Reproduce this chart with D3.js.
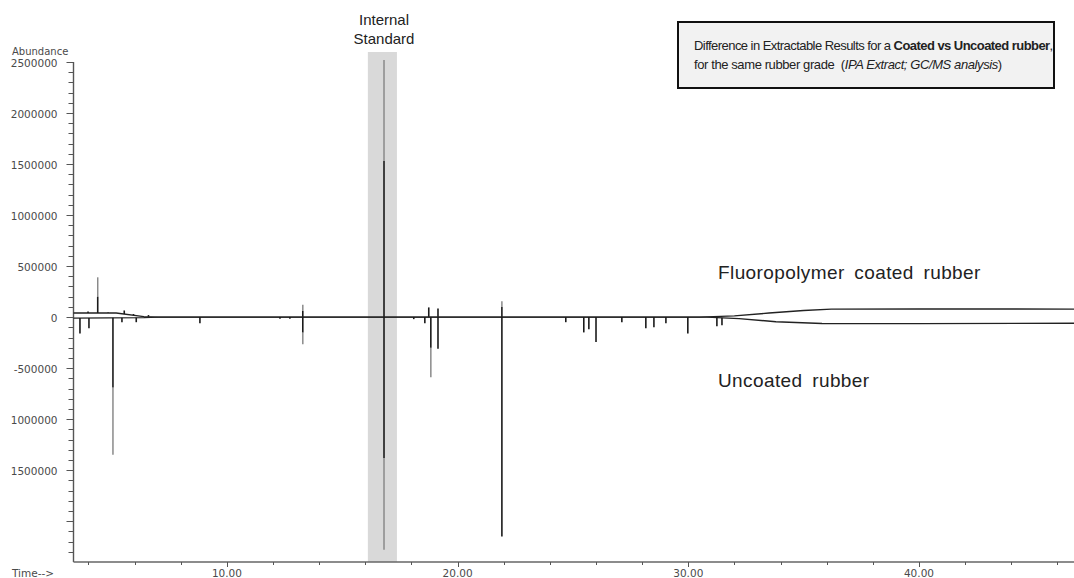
<!DOCTYPE html>
<html>
<head>
<meta charset="utf-8">
<script src="https://cdn.jsdelivr.net/npm/d3@7"></script>
<style>
  body { margin: 0; background: #fff; }
  svg { display: block; }
  .tick-label { font-family: "DejaVu Sans", sans-serif; font-size: 10.5px; fill: #4a4a4a; }
  .note { font-family: "Liberation Sans", Arial, sans-serif; fill: #222; }
</style>
</head>
<body>
<script>
// axis range (minutes, abundance)
var timeDomain = [3.35, 46.72];
var abundanceDomain = [-2400000, 2500000];
var yTickLabels = [
  [2500000, "2500000"], [2000000, "2000000"], [1500000, "1500000"],
  [1000000, "1000000"], [500000, "500000"], [0, "0"],
  [-500000, "-500000"], [-1000000, "1000000"], [-1500000, "1500000"]
];
var xMajorTicks = [10, 20, 30, 40];

// internal standard band (minutes)
var isBand = [16.11, 17.37];

// slow baseline drift, [time, abundance]
var coatedBaseline = [
  [3.35, 40000], [5.2, 40000], [6.4, 5000], [7.0, 0], [30.5, 0], [32.0, 12000],
  [33.5, 40000], [35.0, 65000], [36.2, 78000], [40.0, 80000], [46.72, 78000]
];
var uncoatedBaseline = [
  [3.35, -10000], [6.4, -5000], [7.0, 0], [30.8, 0], [32.2, -15000],
  [33.8, -45000], [35.8, -63000], [40.0, -64000], [46.72, -60000]
];

// peaks: [time, dark part, full height]
var coatedPeaks = [
  [3.98, 55000, 55000], [4.40, 200000, 390000], [4.85, 45000, 45000],
  [5.55, 65000, 65000], [5.95, 30000, 30000], [6.60, 20000, 20000],
  [13.29, 60000, 120000], [16.81, 1530000, 2520000], [18.75, 95000, 95000],
  [19.15, 85000, 85000], [21.92, 100000, 155000]
];
var uncoatedPeaks = [
  [3.63, -160000, -160000], [4.02, -110000, -110000], [5.06, -690000, -1350000],
  [5.45, -50000, -50000], [6.07, -50000, -50000], [8.83, -60000, -60000],
  [12.30, -15000, -15000], [12.73, -15000, -15000], [13.29, -150000, -265000],
  [16.81, -1380000, -2280000], [18.10, -20000, -20000], [18.58, -60000, -60000],
  [18.84, -300000, -590000], [19.15, -310000, -310000], [21.92, -2150000, -2150000],
  [24.69, -50000, -50000], [25.47, -150000, -150000], [25.69, -120000, -120000],
  [26.00, -245000, -245000], [27.12, -50000, -50000], [28.16, -110000, -110000],
  [28.51, -100000, -100000], [29.03, -60000, -60000], [29.98, -160000, -160000],
  [31.24, -90000, -90000], [31.46, -80000, -80000]
];

var W = 1074, H = 578;
var svg = d3.select("body").append("svg")
    .attr("width", W)
    .attr("height", H);

var xScale = d3.scaleLinear().domain(timeDomain).range([73.5, W]);
var yScale = d3.scaleLinear().domain(abundanceDomain).range([562, 62]);

// grey band behind the internal standard
svg.append("rect")
    .attr("x", xScale(isBand[0]))
    .attr("y", 52)
    .attr("width", xScale(isBand[1]) - xScale(isBand[0]))
    .attr("height", yScale(abundanceDomain[0]) - 52)
    .attr("fill", "#d9d9d9");

// y axis, minor ticks every 100000
var yTicks = d3.range(-2300000, 2500001, 100000);
var yAxis = svg.append("g").attr("transform", "translate(73.5,0)");
yAxis.append("line")
    .attr("y1", yScale(2500000)).attr("y2", yScale(abundanceDomain[0]))
    .attr("stroke", "#555").attr("stroke-width", 1.4);
yAxis.selectAll(".yt").data(yTicks).enter().append("line")
    .attr("x1", function(d) { return d % 500000 === 0 ? -7 : -5; })
    .attr("x2", 0)
    .attr("y1", function(d) { return Math.round(yScale(d)) + 0.5; })
    .attr("y2", function(d) { return Math.round(yScale(d)) + 0.5; })
    .attr("stroke", "#555");
yAxis.selectAll(".yl").data(yTickLabels).enter().append("text")
    .attr("class", "tick-label")
    .attr("x", -16)
    .attr("y", function(d) { return yScale(d[0]) + 4.5; })
    .attr("text-anchor", "end")
    .text(function(d) { return d[1]; });

svg.append("text").attr("class", "tick-label")
    .attr("x", 12).attr("y", 55)
    .style("font-size", "10px")
    .text("Abundance");

// x axis, minor ticks every 2 minutes
var xAxis = svg.append("g").attr("transform", "translate(0,562)");
xAxis.append("line")
    .attr("x1", 73.5).attr("x2", W)
    .attr("stroke", "#666").attr("stroke-width", 1.6);
xAxis.selectAll(".xt").data(d3.range(4, 47, 2)).enter().append("line")
    .attr("x1", function(d) { return Math.round(xScale(d)) + 0.5; })
    .attr("x2", function(d) { return Math.round(xScale(d)) + 0.5; })
    .attr("y1", 0)
    .attr("y2", function(d) { return d % 10 === 0 ? 5 : 3; })
    .attr("stroke", "#555");
xAxis.selectAll(".xl").data(xMajorTicks).enter().append("text")
    .attr("class", "tick-label")
    .attr("x", function(d) { return xScale(d); })
    .attr("y", 15)
    .attr("text-anchor", "middle")
    .text(function(d) { return d3.format(".2f")(d); });

svg.append("text").attr("class", "tick-label")
    .attr("x", 12).attr("y", 577).text("Time-->");

// traces
var line = d3.line()
    .x(function(d) { return xScale(d[0]); })
    .y(function(d) { return yScale(d[1]); });

function add_trace(base, peaks) {
  var baseAt = d3.scaleLinear()
      .domain(base.map(function(d) { return d[0]; }))
      .range(base.map(function(d) { return d[1]; }));

  svg.append("path")
      .datum(base)
      .attr("d", line)
      .attr("fill", "none")
      .attr("stroke", "#222")
      .attr("stroke-width", 1.4);

  var g = svg.append("g");
  // grey tip of the taller peaks
  g.selectAll(".tip").data(peaks).enter().append("line")
      .attr("x1", function(d) { return xScale(d[0]); })
      .attr("x2", function(d) { return xScale(d[0]); })
      .attr("y1", function(d) { return yScale(d[1]); })
      .attr("y2", function(d) { return yScale(d[2]); })
      .attr("stroke", "#8a8a8a")
      .attr("stroke-width", 1.5);
  // dark body of each peak
  g.selectAll(".body").data(peaks).enter().append("line")
      .attr("x1", function(d) { return xScale(d[0]); })
      .attr("x2", function(d) { return xScale(d[0]); })
      .attr("y1", function(d) { return yScale(baseAt(d[0])); })
      .attr("y2", function(d) { return yScale(d[1]); })
      .attr("stroke", "#1a1a1a")
      .attr("stroke-width", 1.6);
}

add_trace(coatedBaseline, coatedPeaks);
add_trace(uncoatedBaseline, uncoatedPeaks);

// annotations
var isLabel = svg.append("text").attr("class", "note")
    .attr("text-anchor", "middle")
    .style("font-size", "15px");
isLabel.append("tspan").attr("x", xScale(16.81)).attr("y", 25).text("Internal");
isLabel.append("tspan").attr("x", xScale(16.81)).attr("y", 44).text("Standard");

svg.append("rect")
    .attr("x", 678).attr("y", 22)
    .attr("width", 376).attr("height", 66)
    .attr("fill", "#f2f2f2")
    .attr("stroke", "#111")
    .attr("stroke-width", 2);

var t1 = svg.append("text").attr("class", "note")
    .attr("x", 694).attr("y", 50)
    .style("font-size", "13px").style("letter-spacing", "-0.55px");
t1.append("tspan").text("Difference in Extractable Results for a ");
t1.append("tspan").style("font-weight", "bold").text("Coated vs Uncoated rubber");
t1.append("tspan").text(",");

var t2 = svg.append("text").attr("class", "note")
    .attr("x", 694).attr("y", 69)
    .style("font-size", "13px").style("letter-spacing", "-0.4px");
t2.append("tspan").text("for the same rubber grade\u00a0\u00a0(");
t2.append("tspan").style("font-style", "italic").text("IPA Extract; GC/MS analysis");
t2.append("tspan").text(")");

svg.append("text").attr("class", "note")
    .attr("x", 718).attr("y", 279)
    .style("font-size", "19px").style("letter-spacing", "0.4px").style("word-spacing", "4px")
    .text("Fluoropolymer coated rubber");

svg.append("text").attr("class", "note")
    .attr("x", 718).attr("y", 387)
    .style("font-size", "19px").style("letter-spacing", "0.4px").style("word-spacing", "4px")
    .text("Uncoated rubber");
</script>
</body>
</html>
